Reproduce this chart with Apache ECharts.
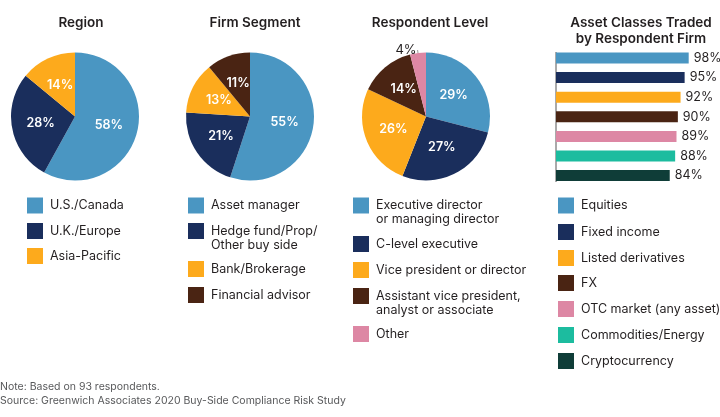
<!DOCTYPE html>
<html>
<head>
<meta charset="utf-8">
<style>
  html, body { margin: 0; padding: 0; background: #fff; }
  #chart { width: 720px; height: 417px; }
</style>
<script src="https://cdn.jsdelivr.net/npm/echarts@6/dist/echarts.min.js"></script>
</head>
<body>
<div id="chart"></div>
<script>
var FONT = 'Inter';
var INK = '#231f20';

var BLUE = '#4a96c2', NAVY = '#1a2e5c', ORANGE = '#fdaa1c', BROWN = '#4a2413',
    PINK = '#dd87a4', TEAL = '#1cbc9f', GREEN = '#0f3d38';

// Region
var regionNames = ['U.S./Canada', 'U.K./Europe', 'Asia-Pacific'];
var regionValues = [58, 28, 14];
// Firm Segment
var segmentNames = ['Asset manager', 'Hedge fund/Prop/\nOther buy side', 'Bank/Brokerage', 'Financial advisor'];
var segmentValues = [55, 21, 13, 11];
// Respondent Level
var levelNames = ['Executive director\nor managing director', 'C-level executive', 'Vice president or director',
    'Assistant vice president,\nanalyst or associate', 'Other'];
var levelValues = [29, 27, 26, 14, 4];
// Asset classes
var assetNames = ['Equities', 'Fixed income', 'Listed derivatives', 'FX', 'OTC market (any asset)',
    'Commodities/Energy', 'Cryptocurrency'];
var assetValues = [98, 95, 92, 90, 89, 88, 84];

var pieColors = [BLUE, NAVY, ORANGE, BROWN, PINK];
var assetColors = [BLUE, NAVY, ORANGE, BROWN, PINK, TEAL, GREEN];

var myChart = echarts.init(document.getElementById('chart'));

function makePie(name, names, values, cx) {
    var data = [];
    for (var i = 0; i < values.length; i++) {
        var item = {name: names[i], value: values[i], itemStyle: {color: pieColors[i]}};
        // the small slice has its label outside
        if (values[i] < 10) {
            item.label = {position: 'outside', color: INK, fontWeight: 400, fontSize: 13, distanceToLabelLine: 1};
            item.labelLine = {show: true, length: 3, length2: 0, lineStyle: {color: '#999'}};
        }
        data.push(item);
    }
    return {
        name: name,
        type: 'pie',
        center: [cx, 116.5],
        radius: [0, 64],
        startAngle: 90,
        clockwise: true,
        silent: true,
        animation: false,
        itemStyle: {borderWidth: 0},
        label: {
            position: 'inside',
            formatter: '{c}%',
            color: '#fff',
            fontFamily: FONT,
            fontWeight: 600,
            fontSize: 12.5
        },
        data: data
    };
}

// legend swatches + text: aligned on the first text line, so drawn by hand
function legendBlock(names, colors, swatchX, ys) {
    var out = [];
    for (var i = 0; i < names.length; i++) {
        out.push({
            type: 'rect', silent: true,
            shape: {x: swatchX, y: ys[i] - 8, width: 16, height: 16},
            style: {fill: colors[i]}
        });
        out.push({
            type: 'text', silent: true,
            x: swatchX + 23, y: ys[i] - 7,
            style: {text: names[i], fill: INK, font: '12.5px ' + FONT, lineHeight: 14, textVerticalAlign: 'top'}
        });
    }
    return out;
}

var graphics = [];
graphics = graphics.concat(legendBlock(regionNames, pieColors, 27, [205.5, 231, 256]));
graphics = graphics.concat(legendBlock(segmentNames, pieColors, 188, [205.5, 231, 269, 295]));
graphics = graphics.concat(legendBlock(levelNames, pieColors, 353, [205.5, 244, 270, 296, 334]));
graphics = graphics.concat(legendBlock(assetNames, assetColors, 558, [205.5, 232, 258, 283, 309, 335, 361]));

// the bar chart's axis rule is shorter than its bands
graphics.push({
    type: 'line', silent: true,
    shape: {x1: 556, y1: 52, x2: 556, y2: 182},
    style: {stroke: '#555', lineWidth: 1}
});

graphics.push({
    type: 'text', silent: true, x: 0, y: 380,
    style: {
        text: 'Note: Based on 93 respondents.\nSource: Greenwich Associates 2020 Buy-Side Compliance Risk Study',
        fill: '#58595b', font: '10.5px ' + FONT, lineHeight: 14, textVerticalAlign: 'top'
    }
});

function title(text, cx, top) {
    return {
        text: text, left: cx, top: top, textAlign: 'center',
        textStyle: {fontFamily: FONT, fontWeight: 600, fontSize: 13.5, lineHeight: 16, color: INK}
    };
}

var option = {
    backgroundColor: '#fff',
    animation: false,
    title: [
        title('Region', 76, 10),
        title('Firm Segment', 250, 10),
        title('Respondent Level', 425, 10),
        title('Asset Classes Traded\nby Respondent Firm', 636, 10)
    ],
    grid: {left: 556, top: 48.2, width: 135.4, height: 137.2, containLabel: false},
    xAxis: {type: 'value', min: 0, max: 100, show: false},
    yAxis: {type: 'category', inverse: true, data: assetNames, show: false},
    series: [
        makePie('Region', regionNames, regionValues, 75),
        makePie('Firm Segment', segmentNames, segmentValues, 250),
        makePie('Respondent Level', levelNames, levelValues, 426),
        {
            name: 'Asset Classes Traded',
            type: 'bar',
            silent: true,
            barWidth: 11,
            data: assetValues.map(function (v, i) {
                return {value: v, itemStyle: {color: assetColors[i]}};
            }),
            label: {
                show: true, position: 'right', distance: 5,
                formatter: '{c}%', color: INK, fontFamily: FONT, fontSize: 12.5
            }
        }
    ],
    graphic: graphics
};

myChart.setOption(option);
</script>
</body>
</html>
